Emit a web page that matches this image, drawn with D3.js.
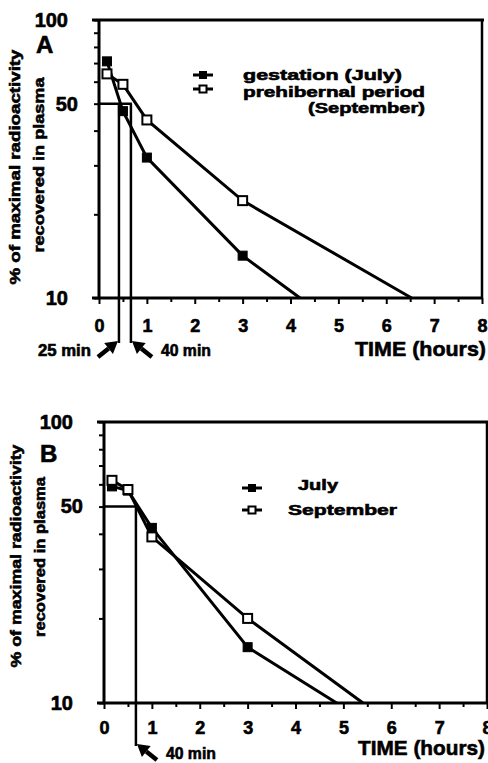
<!DOCTYPE html>
<html>
<head>
<meta charset="utf-8">
<script src="https://cdn.jsdelivr.net/npm/d3@7"></script>
<style>
body { margin: 0; background: #fff; }
svg { display: block; }
text { font-family: "Liberation Sans", Arial, sans-serif; font-weight: bold; fill: #000; stroke: #000; stroke-width: 0.6px; }
</style>
</head>
<body>
<div id="chart"></div>
<script>
// sampling times in hours (10, 30, 60 and 180 min)
const sampleHours = [1 / 6, 0.5, 1, 3]

// panel A - % of maximal radioactivity
const gestationA = [71, 47, 32, 14.2]
const prehibernalA = [64, 58.7, 43.7, 22.4]
// hour at which each fitted line reaches 10 %
const gestationEndA = 4.2
const prehibernalEndA = 6.53
const halfLifeMinA = [25, 40]

// panel B
const julyB = [59, 57, 42, 15.8]
const septemberB = [62, 57.5, 39, 20]
const julyEndB = 4.86
const septemberEndB = 5.41
const halfLifeMinB = [40]

const xTickValues = d3.range(0, 8.01, 0.5)
const yTickValues = [10, 20, 30, 40, 50, 60, 70, 80, 90, 100]
const yTickLabels = [100, 50, 10]

const svg = d3.select('#chart')
    .append('svg')
    .attr('width', 488)
    .attr('height', 763)

function addText(g, str, x, y, size, width, anchor) {
    const t = g.append('text')
        .attr('x', x)
        .attr('y', y)
        .style('font-size', size + 'px')
        .attr('text-anchor', anchor || 'start')
        .text(str)
    if (width) t.attr('textLength', width).attr('lengthAdjust', 'spacingAndGlyphs')
    return t
}

function square(g, cx, cy, size, filled) {
    g.append('rect')
        .attr('x', cx - size / 2)
        .attr('y', cy - size / 2)
        .attr('width', size)
        .attr('height', size)
        .attr('fill', filled ? '#000' : '#fff')
        .attr('stroke', '#000')
        .attr('stroke-width', filled ? 1 : 2)
}

function arrow(g, tail, head) {
    const ang = Math.atan2(head[1] - tail[1], head[0] - tail[0])
    const len = 12, half = 7
    const bx = head[0] - len * Math.cos(ang), by = head[1] - len * Math.sin(ang)
    g.append('line')
        .attr('x1', tail[0]).attr('y1', tail[1])
        .attr('x2', bx).attr('y2', by)
        .attr('stroke', '#000').attr('stroke-width', 4.5)
    g.append('path')
        .attr('d', d3.line()([
            head,
            [bx + half * Math.sin(ang), by - half * Math.cos(ang)],
            [bx - half * Math.sin(ang), by + half * Math.cos(ang)]
        ]) + 'Z')
        .attr('fill', '#000')
}

function drawPanel(p) {
    const g = svg.append('g')
    const x = d3.scaleLinear().domain([0, 8]).range([p.left, p.right])
    const y = d3.scaleLog().domain([10, 100]).range([p.bottom, p.top])

    // x axis: ticks at every half hour, labels on whole hours
    const xAxis = g.append('g')
        .attr('transform', `translate(0,${p.bottom})`)
        .call(d3.axisBottom(x)
            .tickValues(xTickValues)
            .tickSize(6)
            .tickPadding(p.xPad)
            .tickFormat(d => Number.isInteger(d) ? d : ''))
    xAxis.select('.domain').remove()
    xAxis.selectAll('.tick line')
        .attr('stroke-width', 2)
        .attr('y2', d => Number.isInteger(d) ? 6 : 4)
    xAxis.selectAll('.tick text')
        .attr('font-family', null)
        .style('font-size', '18px')

    // y axis: log ticks, only 100 / 50 / 10 labelled
    const yAxis = g.append('g')
        .attr('transform', `translate(${p.left},0)`)
        .call(d3.axisLeft(y)
            .tickValues(yTickValues)
            .tickSize(5)
            .tickPadding(p.yPad)
            .tickFormat(d => yTickLabels.includes(d) ? d : ''))
    yAxis.select('.domain').remove()
    yAxis.selectAll('.tick line').attr('stroke-width', 2)
    yAxis.selectAll('.tick text')
        .attr('font-family', null)
        .style('font-size', '20px')
        .attr('dx', d => d === 50 ? 10 : 0)

    // frame
    const frame = [
        [[p.left - 7, p.top], [p.right + 2, p.top], 3],
        [[p.left - 7, p.bottom], [p.right, p.bottom], 3],
        [[p.left, p.top], [p.left, p.bottom], 3],
        [[p.right, p.top], [p.right, p.bottom], 2.5]
    ]
    frame.forEach(([a, b, w]) => {
        g.append('line')
            .attr('x1', a[0]).attr('y1', a[1])
            .attr('x2', b[0]).attr('y2', b[1])
            .attr('stroke', '#000').attr('stroke-width', w)
    })

    // half-life construction at 50 %
    const halfHours = p.halfLife.map(m => m / 60)
    g.append('line')
        .attr('x1', x(0)).attr('y1', y(50))
        .attr('x2', x(d3.max(halfHours)) + 1).attr('y2', y(50))
        .attr('stroke', '#000').attr('stroke-width', 2.5)
    p.halfLife.forEach((m, i) => {
        const hx = x(m / 60)
        g.append('line')
            .attr('x1', hx).attr('y1', y(50))
            .attr('x2', hx).attr('y2', p.arrowY)
            .attr('stroke', '#000').attr('stroke-width', 2.5)
        const side = (p.halfLife.length > 1 && i === 0) ? -1 : 1
        arrow(g, [hx + side * 21, p.arrowY + 14], [hx + side * 1, p.arrowY - 2])
        if (side < 0) {
            addText(g, m + ' min', hx - 81, p.arrowY + 13, 16, 53)
        } else {
            addText(g, m + ' min', hx + 30, p.arrowY + 13, 16, 50)
        }
    })

    // series: filled first, open on top
    const line = d3.line().x(d => x(d[0])).y(d => y(d[1]))
    p.series.forEach(s => {
        const pts = sampleHours.map((h, i) => [h, s.values[i]])
        g.append('path')
            .attr('d', line(pts.concat([[s.end, 10]])))
            .attr('fill', 'none')
            .attr('stroke', '#000')
            .attr('stroke-width', 3)
    })
    p.series.forEach(s => {
        sampleHours.forEach((h, i) => square(g, x(h), y(s.values[i]), 9, s.filled))
    })

    // legend
    p.legend.forEach(l => {
        g.append('line')
            .attr('x1', l.mx - 10).attr('y1', l.my)
            .attr('x2', l.mx + 10).attr('y2', l.my)
            .attr('stroke', '#000').attr('stroke-width', 3)
        square(g, l.mx, l.my, 7, l.filled)
        l.lines.forEach(t => addText(g, t.text, t.x, t.y, 15, t.w))
    })

    // panel letter, axis titles
    addText(g, p.letter, p.letterX, p.letterY, 24)
    addText(g, 'TIME (hours)', p.timeX, p.timeY, 21, p.timeW, 'end')
    p.yTitle.forEach(t => {
        addText(g, t.text, 0, 0, 15, t.w, 'middle')
            .attr('transform', `translate(${t.x},${t.y}) rotate(-90)`)
    })
}

drawPanel({
    left: 99, right: 482, top: 20, bottom: 298, yPad: 26, xPad: 15,
    halfLife: halfLifeMinA, arrowY: 343,
    series: [
        { values: gestationA, end: gestationEndA, filled: true },
        { values: prehibernalA, end: prehibernalEndA, filled: false }
    ],
    legend: [
        { mx: 203, my: 75, filled: true, lines: [{ text: 'gestation (July)', x: 243, y: 80, w: 159 }] },
        { mx: 203, my: 89, filled: false, lines: [
            { text: 'prehibernal period', x: 243, y: 97, w: 182 },
            { text: '(September)', x: 308, y: 113, w: 117 }
        ] }
    ],
    letter: 'A', letterX: 36, letterY: 53,
    timeX: 486, timeY: 356, timeW: 131,
    yTitle: [
        { text: '% of maximal radioactivity', x: 20, y: 167, w: 235 },
        { text: 'recovered in plasma', x: 44, y: 165, w: 175 }
    ]
})

drawPanel({
    left: 104, right: 487, top: 422, bottom: 703, yPad: 26, xPad: 12,
    halfLife: halfLifeMinB, arrowY: 746,
    series: [
        { values: julyB, end: julyEndB, filled: true },
        { values: septemberB, end: septemberEndB, filled: false }
    ],
    legend: [
        { mx: 252, my: 488, filled: true, lines: [{ text: 'July', x: 298, y: 490, w: 40 }] },
        { mx: 252, my: 510, filled: false, lines: [{ text: 'September', x: 288, y: 515, w: 109 }] }
    ],
    letter: 'B', letterX: 40, letterY: 462,
    timeX: 485, timeY: 755, timeW: 127,
    yTitle: [
        { text: '% of maximal radioactivity', x: 21, y: 556, w: 223 },
        { text: 'recovered in plasma', x: 45, y: 557, w: 160 }
    ]
})
</script>
</body>
</html>
